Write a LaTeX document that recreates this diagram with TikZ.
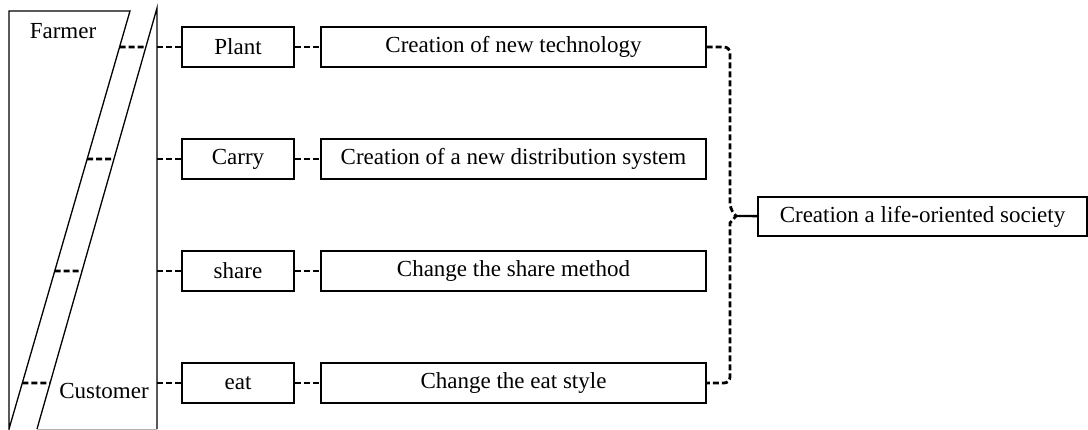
\documentclass[tikz,border=0pt]{standalone}
\usepackage{fontspec}
\setmainfont{Liberation Serif}
\usetikzlibrary{calc,positioning}
\tikzset{
  box/.style={draw,line width=1.4pt,minimum height=40pt,inner sep=0pt},
  link/.style={line width=2.8pt,dash pattern=on 6pt off 3pt}
}

\begin{document}
\begin{tikzpicture}[x=1pt,y=-1pt,font=\fontsize{23}{27}\selectfont]
\useasboundingbox (0,0) rectangle (1088,429);
% the two wedges
\coordinate (ft) at (130,11);
\coordinate (fb) at (9,429);
\coordinate (ct) at (157,8);
\coordinate (cb) at (37,429);
\draw[line width=1.3pt] (9,11) -- (ft) -- (fb) -- cycle;
\draw[line width=1.3pt] (cb) -- (ct) -- (157,429);
\draw[line width=1pt,gray!60] (cb) -- (157,429);
\node (farmer) at (63,31) {Farmer};
\node (customer) at (104,391) {Customer};
\foreach \n/\y/\s/\c in {1/47/Plant/Creation of new technology,
    2/159/Carry/Creation of a new distribution system,
    3/271/share/Change the share method,
    4/383/eat/Change the eat style}
{
  \node[box,minimum width=112pt] (s\n) at (238,\y) {\s};
  \node[box,minimum width=385pt] (c\n) at (513.5,\y) {\c};
  \coordinate (h\n) at (0,\y);
  \coordinate (k\n) at (200,\y);
  \coordinate (f\n) at (intersection of ft--fb and h\n--k\n);
  \coordinate (g\n) at (intersection of ct--cb and h\n--k\n);
  \coordinate (v\n) at (157,\y);
  \draw[link] (f\n) -- (g\n);
  \draw[link] (v\n) -- (s\n);
  \draw[link] (s\n) -- (c\n);
}
\node[box,minimum width=329pt,minimum height=39pt] (goal) at (922.5,216.5)
  {Creation a life-oriented society};
% the brace
\coordinate (bt) at (730,209);
\coordinate (tip) at (736,216);
\coordinate (bb) at (730,223);
\draw[link] (c1.east) [rounded corners=6pt] -| (bt) [sharp corners] -- (tip) -- (bb)
  [rounded corners=6pt] |- (c4.east);
\draw[line width=2.4pt] (tip) -- (goal);
\end{tikzpicture}
\end{document}
